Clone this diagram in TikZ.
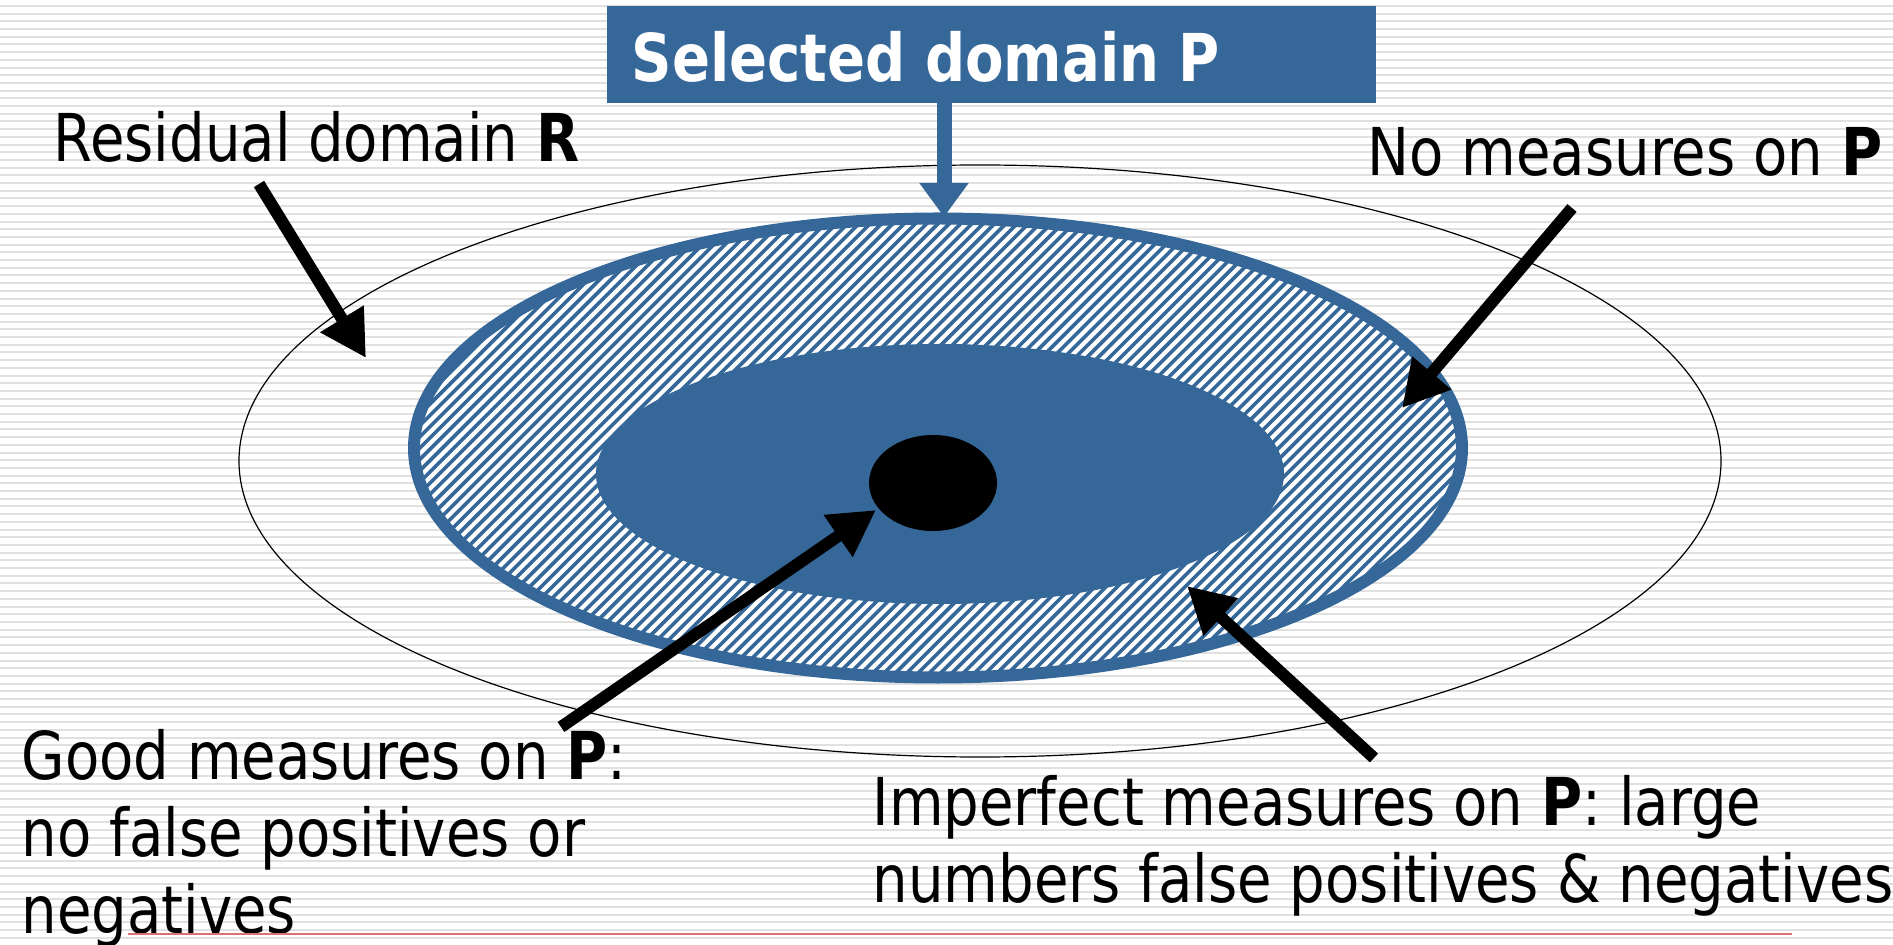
\documentclass[tikz,border=0pt]{standalone}
\usepackage{fontspec}
\setmainfont[FakeStretch=0.85]{DejaVu Sans}
\usetikzlibrary{positioning,calc}
\usetikzlibrary{arrows.meta,shapes}

\definecolor{domainblue}{RGB}{53,104,153}
\definecolor{stripegray}{RGB}{224,224,224}
\definecolor{rulered}{RGB}{221,112,112}

\begin{document}
\begin{tikzpicture}[x = 0.5pt, y = -0.5pt, > = {Triangle[length = 23pt, width = 24pt]}, semithick]
\tikzstyle{stripe}=[stripegray, line width = 1pt]
\tikzstyle{domainshape}=[ellipse, inner sep = 0pt]
\tikzstyle{pointer}=[black, line width = 6pt]
\tikzstyle{hatch}=[domainblue, line width = 1.8pt]
\tikzstyle{labeltext}=[
  anchor = base west,
  inner sep = 0pt,
  align = left,
  font = \fontsize{33pt}{38.3pt}\selectfont
]

\useasboundingbox (0,0) rectangle (1893,945);
\fill[white] (0,0) rectangle (1893,945);
\foreach \y in {6,13.7,...,945} \draw[stripe] (0,\y) -- (1893,\y);

% domains
\node[domainshape, draw, line width = 0.6pt, minimum width = 741pt, minimum height = 296pt] (R) at (980,461) {};
\node[domainshape, fill = white, draw = domainblue, line width = 6pt,
  minimum width = 524pt, minimum height = 229.5pt,
  path picture = {
    \foreach \dx in {-1030,-1018.7,...,530}
      \draw[hatch] ($(path picture bounding box.center) + (\dx,252)$) -- ++(500,-500);
  }] (P) at (938,448) {};
\node[domainshape, fill = domainblue, minimum width = 344pt, minimum height = 130pt] (G) at (940,474) {};
\node[domainshape, fill = black, minimum width = 64pt, minimum height = 48pt] (D) at (933,483) {};

% title
\node[rectangle, fill = domainblue, minimum width = 384.5pt, minimum height = 48.5pt, inner sep = 0pt] (selbox) at (991.5,54.5) {};
\node[labeltext, text = white, font = \fontsize{33pt}{38pt}\selectfont\bfseries] (seltext) at (631,82) {Selected domain P};
\coordinate (selfoot) at (944,103);
\coordinate (seltip) at (944,217);
\path[->, domainblue, line width = 7.5pt, > = {Triangle[length = 17pt, width = 23.5pt]}] (selfoot) edge (seltip);

% labels
\node[labeltext] (resid) at (53,162) {Residual domain \textbf{R}};
\node[labeltext] (nomeas) at (1367,176) {No measures on \textbf{P}};
\node[labeltext] (good) at (21,933) {Good measures on \textbf{P}:\\no false positives or\\negatives};
\node[labeltext] (imperf) at (872,902) {Imperfect measures on \textbf{P}: large\\numbers false positives \& negatives};

% pointers
\coordinate (tailR) at (259,184);
\coordinate (tipR) at (366,358);
\coordinate (tailN) at (1572,208);
\coordinate (tipN) at (1402,408);
\coordinate (tailG) at (561,727);
\coordinate (tipG) at (876,510);
\coordinate (tailI) at (1374,758);
\coordinate (tipI) at (1187,586);

\path[->, pointer] (tailR) edge (tipR);
\path[->, pointer] (tailN) edge (tipN);
\path[->, pointer] (tailG) edge (tipG);
\path[->, pointer] (tailI) edge (tipI);

\draw[rulered, line width = 0.8pt] (128,934) -- (1792,934);
\end{tikzpicture}
\end{document}
